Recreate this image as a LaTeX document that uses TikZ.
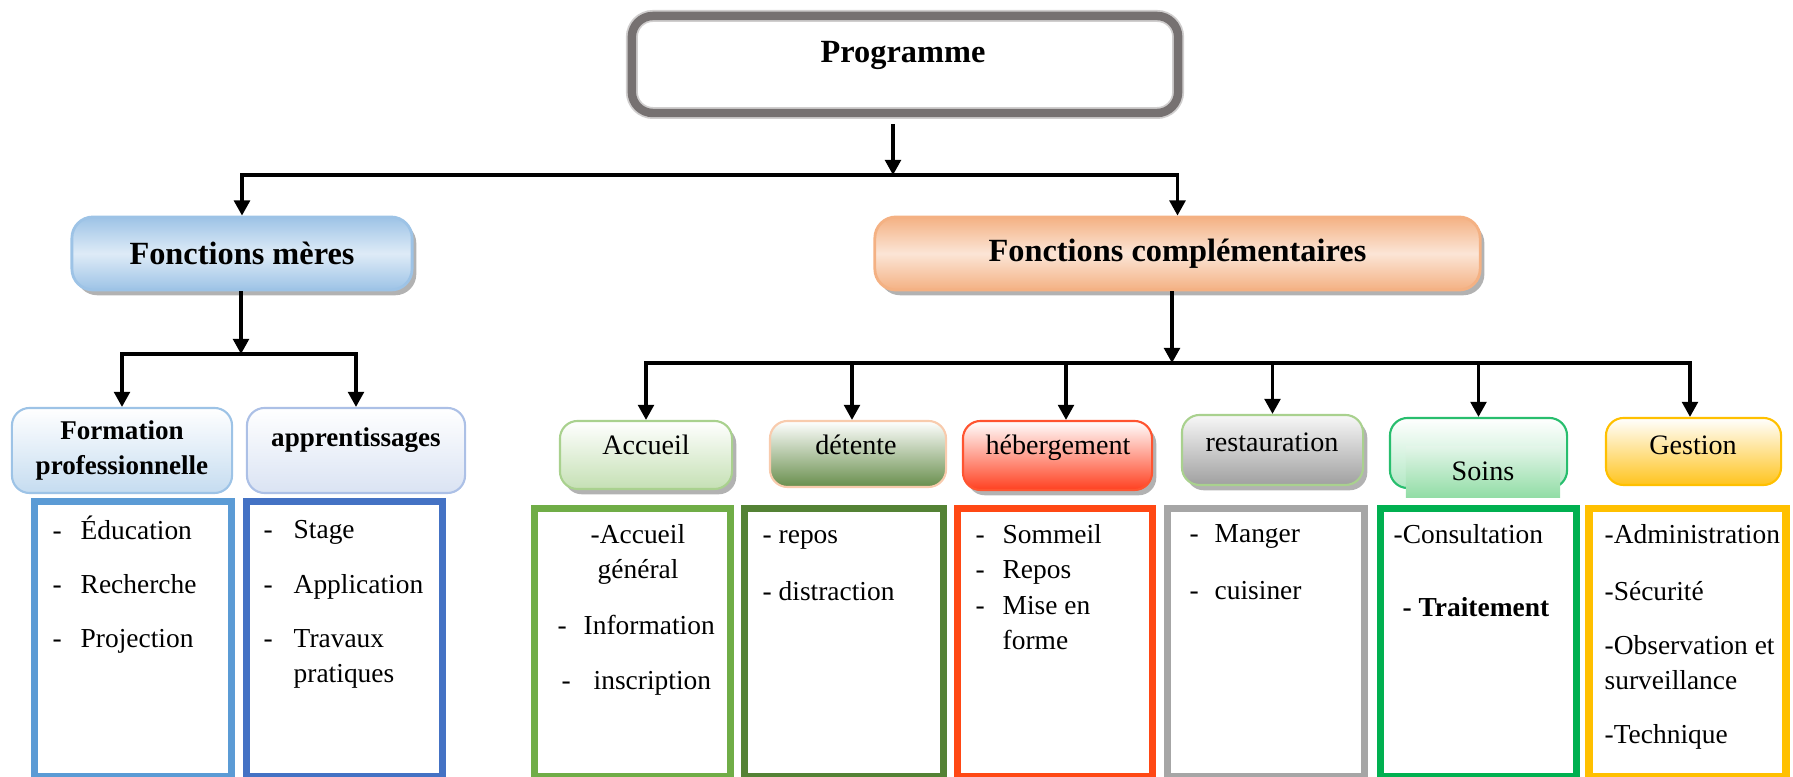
\documentclass[tikz,border=0pt]{standalone}
\usepackage{fontspec}
\setmainfont{Liberation Serif}
\usetikzlibrary{arrows.meta,shadows}
\definecolor{progGrey}{RGB}{118,113,113}
\definecolor{progLight}{RGB}{208,206,206}
\definecolor{fmBlue}{RGB}{157,195,230}
\definecolor{fmLight}{RGB}{222,235,247}
\definecolor{fcOrange}{RGB}{244,177,131}
\definecolor{fcLight}{RGB}{251,229,214}
\definecolor{fpLine}{RGB}{157,195,230}
\definecolor{fpFill}{RGB}{197,220,240}
\definecolor{apLine}{RGB}{172,192,230}
\definecolor{apFill}{RGB}{218,227,243}
\definecolor{accLine}{RGB}{169,209,142}
\definecolor{accFill}{RGB}{197,224,180}
\definecolor{detLine}{RGB}{248,203,173}
\definecolor{detFill}{RGB}{104,142,76}
\definecolor{hebLine}{RGB}{255,84,48}
\definecolor{hebFill}{RGB}{255,64,32}
\definecolor{resFill}{RGB}{160,160,160}
\definecolor{soiLine}{RGB}{40,190,110}
\definecolor{soiFill}{RGB}{178,232,196}
\definecolor{soiTop}{RGB}{226,245,232}
\definecolor{soiBot}{RGB}{146,221,166}
\definecolor{gesLine}{RGB}{255,192,0}
\definecolor{gesFill}{RGB}{255,196,30}
\definecolor{fpList}{RGB}{91,155,213}
\definecolor{apList}{RGB}{68,114,196}
\definecolor{accList}{RGB}{112,173,71}
\definecolor{detList}{RGB}{84,130,53}
\definecolor{hebList}{RGB}{255,72,20}
\definecolor{resList}{RGB}{166,166,166}
\definecolor{soiList}{RGB}{0,176,80}
\definecolor{gesList}{RGB}{255,192,0}

\newcommand{\itm}[2][0.28cm]{\makebox[#1][l]{-}#2}

\tikzset{
  arr/.style={-{Triangle[width=4.5pt,length=4.3pt]}, line width=0.9pt},
  bigbox/.style={rounded corners=6pt, line width=0.8pt, inner sep=0pt, font=\fontsize{9.2}{11}\selectfont\bfseries},
  subbox/.style={rounded corners=5pt, line width=0.6pt, inner sep=0pt},
  shad/.style={drop shadow={shadow xshift=1.2pt, shadow yshift=-1.5pt, fill=black, opacity=0.3}},
  lbl/.style={inner sep=0pt, text height=0.7em, text depth=0.2em, font=\fontsize{8}{10}\selectfont},
  listtxt/.style={anchor=north west, inner sep=0pt, align=left, font=\fontsize{7.8}{10}\selectfont, execute at begin node=\strut},
  listbox/.style={line width=2pt},
}

\begin{document}
\begin{tikzpicture}[x=0.01cm, y=-0.01cm]
  \useasboundingbox (0,0) rectangle (1793,777);

  \node[bigbox, draw=progGrey, line width=2.4pt, preaction={draw=progLight, line width=3.4pt},
        minimum width=5.46cm, minimum height=0.97cm] (prog) at (905,64.5) {};
  \node[lbl, font=\fontsize{9.2}{11}\selectfont\bfseries] (progT) at (903,54) {Programme};

  \node[bigbox, draw=fmBlue, shad, top color=fmBlue, bottom color=fmBlue, middle color=fmLight,
        minimum width=3.4cm, minimum height=0.73cm] (fm) at (242,253.5) {Fonctions mères};
  \node[bigbox, draw=fcOrange, shad, top color=fcOrange, bottom color=fcOrange, middle color=fcLight,
        minimum width=6.05cm, minimum height=0.73cm] (fc) at (1177.5,253.5) {Fonctions complémentaires};

  \node[subbox, draw=fpLine, top color=white, bottom color=fpFill, align=center,
        font=\fontsize{7.7}{9.7}\selectfont\bfseries,
        minimum width=2.2cm, minimum height=0.85cm] (fp) at (122,450.5) {Formation\\professionnelle};
  \node[subbox, draw=apLine, top color=white, bottom color=apFill,
        minimum width=2.18cm, minimum height=0.85cm] (ap) at (356,450.5) {};
  \node[lbl, font=\fontsize{7.7}{9.7}\selectfont\bfseries] (apT) at (356,438) {apprentissages};

  \node[subbox, draw=accLine, shad, top color=white, bottom color=accFill,
        minimum width=1.72cm, minimum height=0.68cm] (acc) at (646,455) {};
  \node[lbl] (accT) at (646,446) {Accueil};
  \node[subbox, draw=detLine, top color=white, bottom color=detFill,
        minimum width=1.76cm, minimum height=0.66cm] (det) at (858,454) {};
  \node[lbl] (detT) at (856,446) {détente};
  \node[subbox, draw=hebLine, shad, top color=white, bottom color=hebFill,
        minimum width=1.89cm, minimum height=0.69cm] (heb) at (1057.5,455.5) {};
  \node[lbl] (hebT) at (1058,446) {hébergement};
  \node[subbox, draw=accLine, shad, top color=gray!6, bottom color=resFill,
        minimum width=1.81cm, minimum height=0.70cm] (res) at (1272.5,450) {};
  \node[lbl] (resT) at (1272,443) {restauration};
  \node[subbox, draw=soiLine, top color=white, bottom color=soiFill,
        minimum width=1.77cm, minimum height=0.70cm] (soi) at (1478.5,453) {};
  \node[lbl, top color=soiTop, bottom color=soiBot, minimum width=1.54cm, minimum height=0.50cm] (soiO) at (1483,472) {Soins};
  \node[subbox, draw=gesLine, top color=white, bottom color=gesFill,
        minimum width=1.75cm, minimum height=0.67cm] (ges) at (1693.5,451.5) {};
  \node[lbl] (gesT) at (1693,446) {Gestion};

  \coordinate (jp) at (893,175);
  \coordinate (jm) at (241,354);
  \coordinate (jc) at (1172,363);
  \draw[arr, shorten <=2pt] (prog.south -| jp) -- (jp);
  \draw[arr] (jp) -| (fm.north);
  \draw[arr] (jp) -| (fc.north);
  \draw[arr] (fm.south -| jm) -- (jm);
  \draw[arr] (jm) -| (fp.north);
  \draw[arr] (jm) -| (ap.north);
  \draw[arr] (fc.south -| jc) -- (jc);
  \draw[arr] (jc) -| (acc.north);
  \draw[arr] (jc) -| ([xshift=-0.06cm]det.north);
  \draw[arr] (jc) -| ([xshift=0.085cm]heb.north);
  \draw[arr] (jc) -| (res.north);
  \draw[arr] (jc) -| (soi.north);
  \draw[arr] (jc) -| ([xshift=-0.035cm]ges.north);

  \draw[listbox, draw=fpList] (34.5,501.5) rectangle (231.5,777);
  \draw[listbox, draw=apList] (246.5,501.5) rectangle (442.5,777);
  \draw[listbox, draw=accList] (534.5,508.5) rectangle (730.5,777);
  \draw[listbox, draw=detList] (744.5,508.5) rectangle (943.5,777);
  \draw[listbox, draw=hebList] (957.5,508.5) rectangle (1152.5,777);
  \draw[listbox, draw=resList] (1167.5,508.5) rectangle (1364.5,777);
  \draw[listbox, draw=soiList] (1380.5,508.5) rectangle (1576.5,777);
  \draw[listbox, draw=gesList] (1589,508.5) rectangle (1786,777);

  \node[listtxt] (fpL) at (52,515) {\itm{Éducation}\\[0.19cm]\itm{Recherche}\\[0.19cm]\itm{Projection}};
  \node[listtxt] (apL) at (263,520) {\itm[0.30cm]{Stage}\\[0.19cm]\itm[0.30cm]{Application}\\[0.19cm]\itm[0.30cm]{Travaux}\\\hspace*{0.30cm}pratiques};
  \node[listtxt] (accL) at (557,524) {\hspace*{0.33cm}-Accueil\\\hspace*{0.40cm}général\\[0.20cm]\itm[0.26cm]{Information}\\[0.20cm]\hspace*{0.04cm}\itm[0.32cm]{inscription}};
  \node[listtxt] (detL) at (762,530) {- repos\\[0.22cm]- distraction};
  \node[listtxt] (hebL) at (975,524) {\itm[0.27cm]{Sommeil}\\\itm[0.27cm]{Repos}\\\itm[0.27cm]{Mise en}\\\hspace*{0.27cm}forme};
  \node[listtxt] (resL) at (1189,524) {\itm[0.25cm]{Manger}\\[0.22cm]\itm[0.25cm]{cuisiner}};
  \node[listtxt] (soiL) at (1393,524) {-Consultation\\[0.38cm]\hspace*{0.09cm}\textbf{- Traitement}};
  \node[listtxt] (gesL) at (1604,524) {-Administration\\[0.22cm]-Sécurité\\[0.18cm]-Observation et\\surveillance\\[0.19cm]-Technique};
\end{tikzpicture}
\end{document}
